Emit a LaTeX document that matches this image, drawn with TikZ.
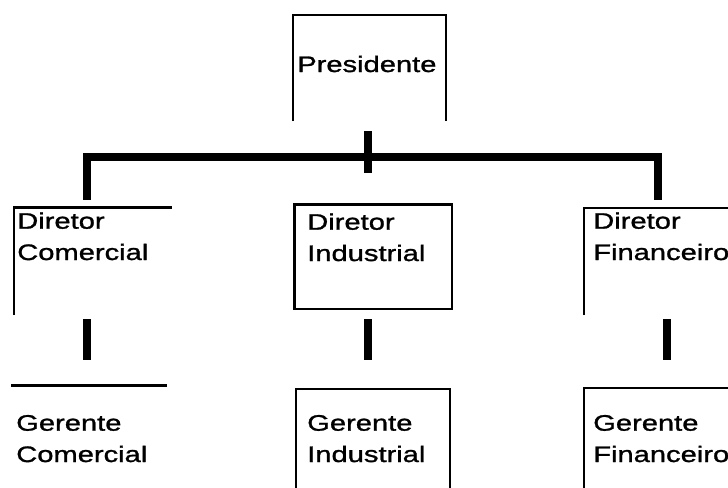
\documentclass[tikz,border=0pt]{standalone}
\usepackage{fontspec}
\setmainfont[FakeStretch=1.3,FakeBold=1.2]{Liberation Sans}

\begin{document}
\begin{tikzpicture}[x=0.75pt,y=-0.75pt,
        caixa/.style={line width=1.9pt},
        ligacao/.style={line width=6pt},
        texto/.style={anchor=base west,inner sep=0pt,align=left,
            font=\fontsize{16.8pt}{23.5pt}\selectfont}]
        \useasboundingbox (0,0) rectangle (728,487);

        % caixas
        \draw[caixa](293,121)--(293,15)--(446,15)--(446,121);
        \draw[caixa](14,315)--(14,207.5)--(172,207.5);
        \draw[caixa](294.5,204.5)rectangle(452,309);
        \draw[caixa](584,315)--(584,208)--(730,208);
        \draw[caixa](11,385.5)--(167,385.5);
        \draw[caixa](296,490)--(296,389)--(450,389)--(450,490);
        \draw[caixa](584,490)--(584,388)--(730,388);

        % textos (ancorados na ultima linha)
        \node[texto](pres) at (297,72){Presidente};
        \node[texto](dircom) at (17,260){Diretor\\Comercial};
        \node[texto](dirind) at (307,261){Diretor\\Industrial};
        \node[texto](dirfin) at (593,260){Diretor\\Financeiro};
        \node[texto](gercom) at (16,462){Gerente\\Comercial};
        \node[texto](gerind) at (307,462){Gerente\\Industrial};
        \node[texto](gerfin) at (593,462){Gerente\\Financeiro};

        % pontos das ligacoes
        \coordinate(presbaixo) at (367.5,131);
        \coordinate(presbarra) at (367.5,173);
        \coordinate(comcima) at (86.5,200);
        \coordinate(fincima) at (657.5,200);
        \coordinate(comA) at (86.5,319);
        \coordinate(comB) at (86.5,360);
        \coordinate(indA) at (367.5,319);
        \coordinate(indB) at (367.5,360);
        \coordinate(finA) at (666.5,319);
        \coordinate(finB) at (666.5,360);

        % ligacoes
        \draw[ligacao](presbaixo)--(presbarra);
        \draw[ligacao](comcima)--(comcima|-0,157)--(fincima|-0,157)--(fincima);
        \draw[ligacao](comA)--(comB);
        \draw[ligacao](indA)--(indB);
        \draw[ligacao](finA)--(finB);
    \end{tikzpicture}
\end{document}
